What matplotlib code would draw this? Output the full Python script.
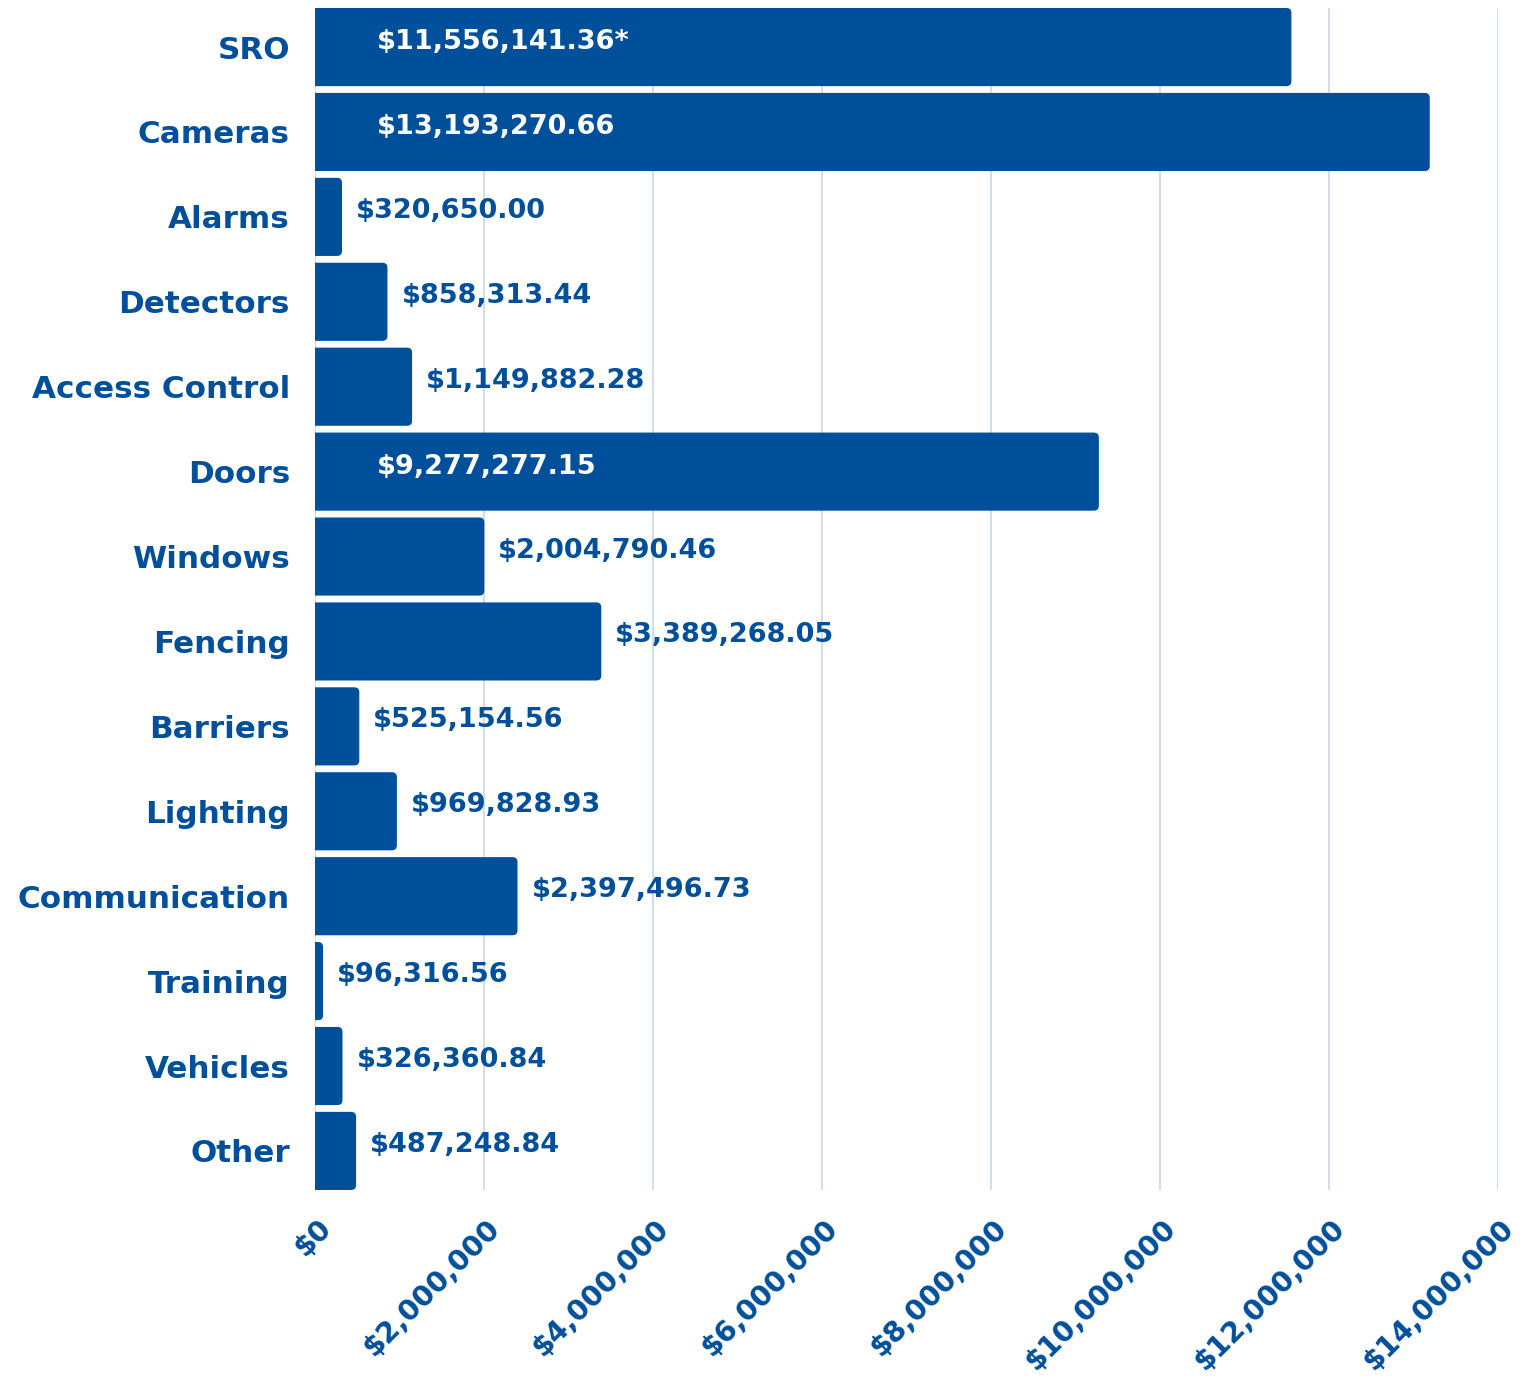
import numpy as np
import matplotlib.pyplot as plt
from matplotlib.ticker import FuncFormatter
from matplotlib.patches import FancyBboxPatch

# Datos
categorias = ['SRO', 'Cameras', 'Alarms', 'Detectors', 'Access Control', 'Doors',
              'Windows', 'Fencing', 'Barriers', 'Lighting', 'Communication',
              'Training', 'Vehicles', 'Other']
montos = [11556141.36, 13193270.66, 320650.00, 858313.44, 1149882.28, 9277277.15,
          2004790.46, 3389268.05, 525154.56, 969828.93, 2397496.73,
          96316.56, 326360.84, 487248.84]
etiquetas = ['$11,556,141.36*', '$13,193,270.66', '$320,650.00', '$858,313.44',
             '$1,149,882.28', '$9,277,277.15', '$2,004,790.46', '$3,389,268.05',
             '$525,154.56', '$969,828.93', '$2,397,496.73', '$96,316.56',
             '$326,360.84', '$487,248.84']
ticks_x = [0, 2e6, 4e6, 6e6, 8e6, 10e6, 12e6, 14e6]

azul = '#004f9a'
plt.rcParams['font.family'] = ['DejaVu Sans']

fig = plt.figure(figsize=(15.31, 13.8), dpi=100)
ax = fig.add_axes([0.2057, 0.1377, 0.7727, 0.8565])

y = np.arange(len(categorias))
barras = ax.barh(y, montos, height=0.92, color=azul, zorder=2)

ax.set_xlim(0, 14e6)
ax.set_ylim(len(categorias) - 0.54, -0.46)

# esquinas redondeadas a la derecha: la barra empieza un poco antes de 0
# y el recorte del eje esconde las esquinas de la izquierda
px_x = 14e6 / (ax.get_position().width * fig.get_figwidth() * fig.dpi)
px_y = (len(categorias) - 0.08) / (ax.get_position().height * fig.get_figheight() * fig.dpi)
r = 5 * px_x
for b in barras:
    x0, y0, w, h = b.get_x(), b.get_y(), b.get_width(), b.get_height()
    b.remove()
    redondo = FancyBboxPatch((x0 - 3 * r, y0), w + 3 * r, h,
                             boxstyle='round,pad=0,rounding_size=%f' % r,
                             mutation_aspect=px_y / px_x,
                             facecolor=azul, edgecolor='none', zorder=2)
    ax.add_patch(redondo)

ax.set_yticks(y)
ax.set_yticklabels(categorias, fontsize=22.3, fontweight='bold', color=azul)
ax.set_xticks(ticks_x)
ax.set_xticklabels([])
ax.tick_params(axis='both', length=0)
ax.tick_params(axis='y', pad=18)

# etiquetas del eje x, giradas
fmt = FuncFormatter(lambda v, p: '${:,.0f}'.format(v))
for tx in ticks_x:
    ax.annotate(fmt(tx), (tx, 0), xycoords=ax.get_xaxis_transform(),
                xytext=(12, -34), textcoords='offset pixels',
                rotation=45, rotation_mode='anchor', ha='right', va='center',
                fontsize=20.5, fontweight='bold', color=azul, annotation_clip=False)

# Lineas de la cuadricula
ax.grid(axis='x', color='#c9d6e8', linewidth=1.2, zorder=0)
for s in ax.spines.values():
    s.set_visible(False)

# Etiquetas de valores
for i, (m, et) in enumerate(zip(montos, etiquetas)):
    if m > 5e6:
        ax.annotate(et, (0, i), xytext=(62, 5), textcoords='offset pixels',
                    ha='left', va='center', fontsize=19.5, fontweight='bold',
                    color='white', zorder=3)
    else:
        ax.annotate(et, (m, i), xytext=(14, 6), textcoords='offset pixels',
                    ha='left', va='center', fontsize=19.5, fontweight='bold',
                    color=azul, zorder=3)

fig.savefig('out.png', dpi=100)
